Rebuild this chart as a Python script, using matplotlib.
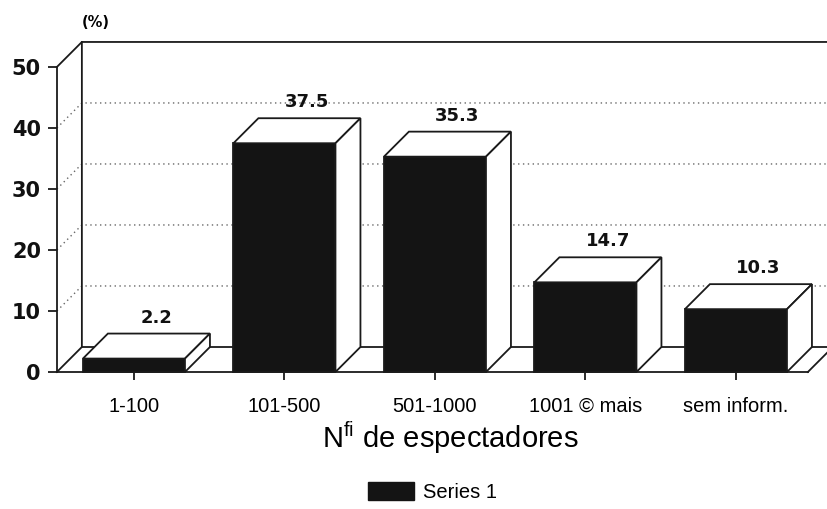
import matplotlib
matplotlib.use("Agg")
import matplotlib.pyplot as plt
from matplotlib.patches import Polygon, Patch

plt.rcParams['font.family'] = ['Liberation Sans', 'DejaVu Sans']
plt.rcParams['mathtext.fontset'] = 'custom'
plt.rcParams['mathtext.rm'] = 'Liberation Sans'

categories = ["1-100", "101-500", "501-1000", "1001 © mais", "sem inform."]
values = [2.2, 37.5, 35.3, 14.7, 10.3]
value_labels = ["2.2", "37.5", "35.3", "14.7", "10.3"]
yticks = [0, 10, 20, 30, 40, 50]
series_name = "Series 1"
xlabel = "N$^{\\mathrm{fi}}$ de espectadores"
ylabel = "(%)"

fig = plt.figure(figsize=(8.27, 5.09), dpi=100)
ax = fig.add_axes([0, 0, 1, 1])
ax.set_xlim(-0.890, 4.605)
ax.set_ylim(-22.46, 60.98)

x_left = -0.512
x_right = 4.478
dx, dy = 0.166, 4.1
ymax = 50
bw = 0.678
lc = '#1a1a1a'
lw = 1.3
bold_font = ['DejaVu Sans']

# walls
ax.plot([x_left, x_left + dx, x_left + dx], [0, dy, ymax + dy], color=lc, lw=lw, zorder=2)
ax.plot([x_left, x_left + dx, 4.7], [ymax, ymax + dy, ymax + dy], color=lc, lw=lw, zorder=2)
ax.plot([x_left + dx, 4.7], [dy, dy], color=lc, lw=lw, zorder=2)
ax.plot([x_right, x_right + dx], [0, dy], color=lc, lw=lw, zorder=2)
for t in yticks[1:-1]:
    ax.plot([x_left, x_left + dx, 4.7], [t, t + dy, t + dy], color='#666666', lw=1,
            ls=(0, (1, 2.5)), zorder=1)

# bars
for i, v in enumerate(values):
    l, r = i - bw / 2, i + bw / 2
    ax.add_patch(Polygon([(l, 0), (r, 0), (r, v), (l, v)], closed=True,
                         facecolor='#141414', edgecolor=lc, lw=lw, zorder=3))
    ax.add_patch(Polygon([(l, v), (r, v), (r + dx, v + dy), (l + dx, v + dy)], closed=True,
                         facecolor='white', edgecolor=lc, lw=lw, zorder=3))
    ax.add_patch(Polygon([(r, 0), (r + dx, dy), (r + dx, v + dy), (r, v)], closed=True,
                         facecolor='white', edgecolor=lc, lw=lw, zorder=3))
    ax.text(i + dx * 0.9, v + dy + 2.6, value_labels[i], ha='center', va='center',
            fontsize=13, fontweight='bold', family=bold_font, color='#111111', zorder=4)

# axes spines / ticks
for s in ['top', 'right']:
    ax.spines[s].set_visible(False)
ax.spines['left'].set_position(('data', x_left))
ax.spines['left'].set_bounds(0, ymax)
ax.spines['bottom'].set_position(('data', 0))
ax.spines['bottom'].set_bounds(x_left, x_right)
for s in ['left', 'bottom']:
    ax.spines[s].set_color(lc)
    ax.spines[s].set_linewidth(lw)
    ax.spines[s].set_zorder(5)
ax.set_yticks(yticks)
ax.set_yticklabels([str(t) for t in yticks], fontsize=15, fontweight='bold',
                   family=bold_font, color='#111111')
ax.tick_params(axis='y', direction='out', length=6.5, width=lw, color=lc, pad=5)
ax.set_xticks(range(len(categories)))
ax.set_xticklabels(categories, fontsize=14.5)
ax.tick_params(axis='x', direction='out', length=6, width=lw, color=lc, pad=12)

ax.text(x_left + 0.26, ymax + dy + 3.2, ylabel, ha='center', va='center',
        fontsize=10.5, fontweight='bold', family=bold_font)
ax.text(2.1, -10.8, xlabel, ha='center', va='center', fontsize=21)

leg = ax.legend(handles=[Patch(facecolor='#141414', edgecolor='#141414', label=series_name)],
                loc='center', bbox_to_anchor=(432.5 / 827, 17 / 509), frameon=False,
                fontsize=14.5, handlelength=2.25, handleheight=0.95, handletextpad=0.45)

fig.savefig("out.png", dpi=100, facecolor='white')
